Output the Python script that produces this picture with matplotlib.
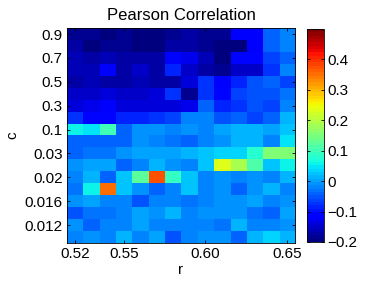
import matplotlib
matplotlib.use("Agg")
import matplotlib.pyplot as plt
import numpy as np

plt.rcParams['font.family'] = ['Liberation Sans', 'DejaVu Sans']

# x axis: r values, y axis: c values (top row first)
r_vals = [0.52, 0.53, 0.54, 0.55, 0.56, 0.57, 0.58, 0.59, 0.60, 0.61, 0.62, 0.63, 0.64, 0.65]
c_vals = [0.9, 0.8, 0.7, 0.6, 0.5, 0.4, 0.3, 0.2, 0.1,
          0.05, 0.03, 0.025, 0.02, 0.018, 0.016, 0.014, 0.012, 0.01]
r_ticks = ['0.52', '0.55', '0.60', '0.65']
c_ticks = ['0.9', '0.7', '0.5', '0.3', '0.1', '0.03', '0.02', '0.016', '0.012']

# Pearson correlation, one row per c value
corr = [
    [-0.18, -0.185, -0.19, -0.185, -0.195, -0.195, -0.185, -0.17, -0.185, -0.18, -0.12, -0.12, -0.04, -0.015],
    [-0.175, -0.19, -0.185, -0.185, -0.195, -0.195, -0.175, -0.17, -0.18, -0.19, -0.19, -0.12, -0.045, -0.025],
    [-0.165, -0.175, -0.165, -0.17, -0.17, -0.17, -0.11, -0.125, -0.165, -0.2, -0.105, -0.105, -0.06, -0.04],
    [-0.16, -0.165, -0.12, -0.17, -0.15, -0.17, -0.085, -0.15, -0.17, -0.18, -0.15, -0.155, -0.07, -0.025],
    [-0.17, -0.165, -0.17, -0.17, -0.165, -0.17, -0.17, -0.135, -0.07, -0.115, -0.08, -0.055, -0.045, -0.06],
    [-0.15, -0.15, -0.14, -0.15, -0.15, -0.14, -0.07, -0.185, -0.07, -0.11, -0.065, -0.055, -0.055, -0.035],
    [-0.145, -0.13, -0.12, -0.145, -0.145, -0.145, -0.14, -0.13, -0.045, -0.085, -0.07, -0.055, -0.06, -0.025],
    [-0.07, -0.105, -0.105, -0.085, -0.085, -0.075, -0.06, -0.025, -0.015, -0.05, -0.045, -0.06, -0.045, 0.015],
    [0.06, 0.05, 0.105, -0.04, -0.005, -0.005, -0.02, -0.01, -0.025, 0.0, 0.015, 0.01, 0.0, 0.02],
    [-0.04, -0.04, -0.04, -0.04, -0.005, -0.02, -0.03, -0.045, -0.025, -0.005, 0.01, 0.01, -0.02, 0.045],
    [-0.04, -0.03, -0.03, -0.01, 0.005, 0.0, 0.005, 0.015, 0.025, 0.035, 0.035, 0.075, 0.15, 0.15],
    [-0.005, 0.005, 0.005, -0.04, -0.02, 0.015, -0.005, -0.02, 0.025, 0.235, 0.185, 0.115, 0.025, 0.055],
    [-0.02, 0.015, -0.04, 0.025, 0.125, 0.37, 0.095, 0.025, -0.02, -0.01, -0.02, -0.01, -0.02, 0.015],
    [-0.03, 0.055, 0.35, 0.025, -0.01, -0.04, -0.02, 0.025, -0.02, -0.01, -0.04, -0.01, 0.015, -0.02],
    [-0.01, 0.0, -0.02, -0.02, -0.05, -0.02, -0.02, -0.03, -0.02, -0.01, -0.01, 0.005, -0.02, -0.01],
    [-0.05, -0.03, -0.03, -0.02, 0.005, -0.01, 0.015, -0.02, -0.01, -0.01, -0.01, -0.03, -0.04, 0.005],
    [-0.01, -0.04, -0.02, -0.02, 0.0, -0.02, -0.02, -0.02, -0.02, -0.03, 0.015, -0.02, -0.02, -0.01],
    [-0.02, -0.01, -0.02, 0.015, -0.02, 0.005, -0.05, -0.02, -0.01, -0.01, -0.04, 0.015, 0.04, 0.015],
]

fig = plt.figure(figsize=(3.74, 2.81), dpi=100)
ax = fig.add_axes([0.179, 0.135, 0.610, 0.765])
cax = fig.add_axes([0.821, 0.139, 0.046, 0.758])

im = ax.imshow(np.array(corr), cmap=plt.get_cmap('jet', 64), vmin=-0.2, vmax=0.5,
               aspect='auto', interpolation='nearest')

xt = [r_vals.index(float(t)) for t in r_ticks]
yt = [c_vals.index(float(t)) for t in c_ticks]
ax.set_xticks(xt)
ax.set_xticklabels(r_ticks)
ax.set_yticks(yt)
ax.set_yticklabels(c_ticks)
ax.tick_params(direction='in', length=2.5, width=0.6, labelsize=11,
               top=True, right=True, pad=3)
for s in ax.spines.values():
    s.set_linewidth(0.6)
ax.set_xlabel('r', fontsize=11, labelpad=1)
ax.set_ylabel('c', fontsize=11, labelpad=4)
ax.set_title('Pearson Correlation', fontsize=12, pad=6)

cb = fig.colorbar(im, cax=cax)
cb.set_ticks([-0.2, -0.1, 0, 0.1, 0.2, 0.3, 0.4])
cb.set_ticklabels(['\u22120.2', '\u22120.1', '0', '0.1', '0.2', '0.3', '0.4'])
cax.tick_params(direction='in', length=2.5, width=0.6, labelsize=11, left=True, pad=2)
cb.outline.set_linewidth(0.6)

fig.savefig('out.png', dpi=100)
